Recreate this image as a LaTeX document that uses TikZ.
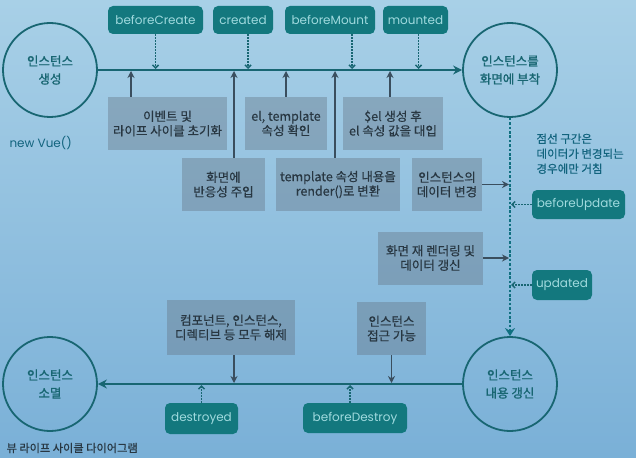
\documentclass[tikz,border=0pt]{standalone}
\usepackage{fontspec}
\setmainfont{Noto Sans CJK KR}
\newfontfamily\krmedium[FakeBold=0.5]{Noto Sans CJK KR}
\newfontfamily\krbold[FakeBold=1.2]{Noto Sans CJK KR}
\newfontfamily\hookfont{Poppins}
\usepackage{tikz}
\usetikzlibrary{arrows.meta, positioning}
\usepackage{xcolor}
\definecolor{pagetop}{RGB}{168, 208, 231}
\definecolor{pagebot}{RGB}{122, 176, 215}
\definecolor{hookteal}{RGB}{19, 120, 126}
\definecolor{hooktext}{RGB}{160, 218, 222}
\definecolor{ringteal}{RGB}{24, 102, 114}
\definecolor{dotteal}{RGB}{16, 112, 128}
\definecolor{stepgray}{RGB}{100, 116, 132}
\definecolor{inkgray}{RGB}{58, 78, 94}
\definecolor{textgray}{RGB}{40, 55, 66}
\definecolor{noteblue}{RGB}{18, 100, 126}

\tikzset{
  stagering/.style={circle, draw=ringteal, line width=1.8pt, minimum size=94pt, inner sep=0pt,
    align=center, text=ringteal, font=\krbold\fontsize{12.5}{18}\selectfont},
  hookbox/.style={rounded corners=5pt, fill=hookteal, text=hooktext, minimum height=28pt,
    inner sep=0pt, font=\hookfont\fontsize{12}{13}\selectfont},
  taskbox/.style={fill=stepgray, fill opacity=0.4, text opacity=1, text=textgray,
    minimum height=53pt, inner sep=0pt, align=center, font=\krmedium\fontsize{12.5}{14.5}\selectfont},
  flow/.style={draw=ringteal, line width=1.8pt},
  feed/.style={draw=inkgray, line width=1.6pt, shorten >=1pt, -{Stealth[length=7pt,width=7pt]}},
  hookline/.style={draw=ringteal, line width=1.5pt, dash pattern=on 1.5pt off 1.5pt, shorten >=1pt,
    -{Straight Barb[length=3pt,width=6pt]}},
}

\begin{document}
\begin{tikzpicture}[x=1pt, y=-1pt]
        \useasboundingbox (0,0) rectangle (636,457);
        \shade[top color=pagetop, bottom color=pagebot] (0,0) rectangle (636,457);

        % ---- STAGES ----
        \node[stagering] (born)   at (50, 70)   {인스턴스\\생성};
        \node[stagering] (mount)  at (510, 70)  {인스턴스를\\화면에 부착};
        \node[stagering] (update) at (510, 384) {인스턴스\\내용 갱신};
        \node[stagering] (dead)   at (50, 384)  {인스턴스\\소멸};

        \draw[flow, -{Stealth[length=9pt,width=9pt]}] (born) -- (mount);
        \draw[flow, draw=dotteal, line width=2.8pt, dash pattern=on 2.6pt off 1.8pt,
              -{Stealth[length=8pt,width=10pt]}] (mount) -- (update);
        \draw[flow, -{Stealth[length=9pt,width=9pt]}] (update) -- (dead);

        \node[font=\hookfont\fontsize{12}{14}\selectfont, text=noteblue, anchor=west] (newvue) at (6, 143) {new Vue()};

        % ---- CREATE / MOUNT HOOKS ----
        \node[hookbox, minimum width=95pt] (bcreate) at (155.5, 20) {beforeCreate};
        \node[hookbox, minimum width=60pt] (created) at (243, 20)   {created};
        \node[hookbox, minimum width=90pt] (bmount)  at (330, 20)   {beforeMount};
        \node[hookbox, minimum width=65pt] (mounted) at (415.5, 20) {mounted};

        \draw[hookline] (bcreate.south) -- (bcreate.south |- born);
        \draw[hookline] ([xshift=5pt]created.south) -- ([xshift=5pt]created.south |- born);
        \draw[hookline] ([xshift=22pt]bmount.south) -- ([xshift=22pt]bmount.south |- born);
        \draw[hookline] ([xshift=3pt]mounted.south) -- ([xshift=3pt]mounted.south |- born);

        % ---- CREATE / MOUNT STEPS ----
        \node[taskbox, minimum width=119pt] (initev) at (167.5, 123.5) {이벤트 및\\라이프 사이클 초기화};
        \node[taskbox, minimum width=82pt]  (check)  at (286, 123.5)   {el, template\\속성 확인};
        \node[taskbox, minimum width=100pt] (setel)  at (393, 123.5)   {\$el 생성 후\\el 속성 값을 대입};
        \node[taskbox, minimum width=83pt]  (react)  at (223.5, 184.5) {화면에\\반응성 주입};
        \node[taskbox, minimum width=124pt] (render) at (338, 184.5)   {template 속성 내용을\\render()로 변환};

        \draw[feed] ([xshift=-36.5pt]initev.north) -- ([xshift=-36.5pt]initev.north |- born);
        \draw[feed] ([xshift=10.5pt]react.north) -- ([xshift=10.5pt]react.north |- born);
        \draw[feed] (check.north) -- (check.north |- born);
        \draw[feed] ([xshift=-3pt]render.north) -- ([xshift=-3pt]render.north |- born);
        \draw[feed] ([xshift=-3pt]setel.north) -- ([xshift=-3pt]setel.north |- born);

        % ---- UPDATE LOOP ----
        \node[font=\krmedium\fontsize{11.5}{15}\selectfont, text=noteblue, align=left, anchor=north west] (dotnote)
          at (533, 130) {점선 구간은\\데이터가 변경되는\\경우에만 거침};

        \node[taskbox, minimum width=70pt]  (datachg) at (447, 184.5) {인스턴스의\\데이터 변경};
        \node[taskbox, minimum width=105pt] (rerend)  at (430.5, 258) {화면 재 렌더링 및\\데이터 갱신};
        \draw[feed] (datachg.east) -- (datachg.east -| mount);
        \draw[feed] (rerend.east) -- (rerend.east -| mount);

        \node[hookbox, minimum width=93pt, minimum height=29pt] (bupdate) at (578.5, 204.5) {beforeUpdate};
        \node[hookbox, minimum width=60pt, minimum height=30pt] (updated) at (562, 285)     {updated};
        \draw[hookline] (bupdate.west) -- (bupdate.west -| mount);
        \draw[hookline] (updated.west) -- (updated.west -| mount);

        % ---- DESTROY ----
        \node[taskbox, minimum width=128pt, minimum height=55pt] (release) at (231, 327.5) {컴포넌트, 인스턴스,\\디렉티브 등 모두 해제};
        \node[taskbox, minimum width=69pt] (access) at (391.5, 328.5) {인스턴스\\접근 가능};
        \draw[feed] ([xshift=3pt]release.south) -- ([xshift=3pt]release.south |- dead);
        \draw[feed] (access.south) -- (access.south |- dead);

        \node[hookbox, minimum width=73pt, minimum height=31pt] (destroyed) at (201.5, 418.5) {destroyed};
        \node[hookbox, minimum width=104pt, minimum height=30pt] (bdestroy) at (355, 418)   {beforeDestroy};
        \draw[hookline] (destroyed.north) -- (destroyed.north |- dead);
        \draw[hookline] ([xshift=-5pt]bdestroy.north) -- ([xshift=-5pt]bdestroy.north |- dead);

        % ---- CAPTION ----
        \node[font=\krmedium\fontsize{11.2}{12}\selectfont, text=textgray, anchor=west] (caption) at (3, 448) {뷰 라이프 사이클 다이어그램};
      \end{tikzpicture}
\end{document}
